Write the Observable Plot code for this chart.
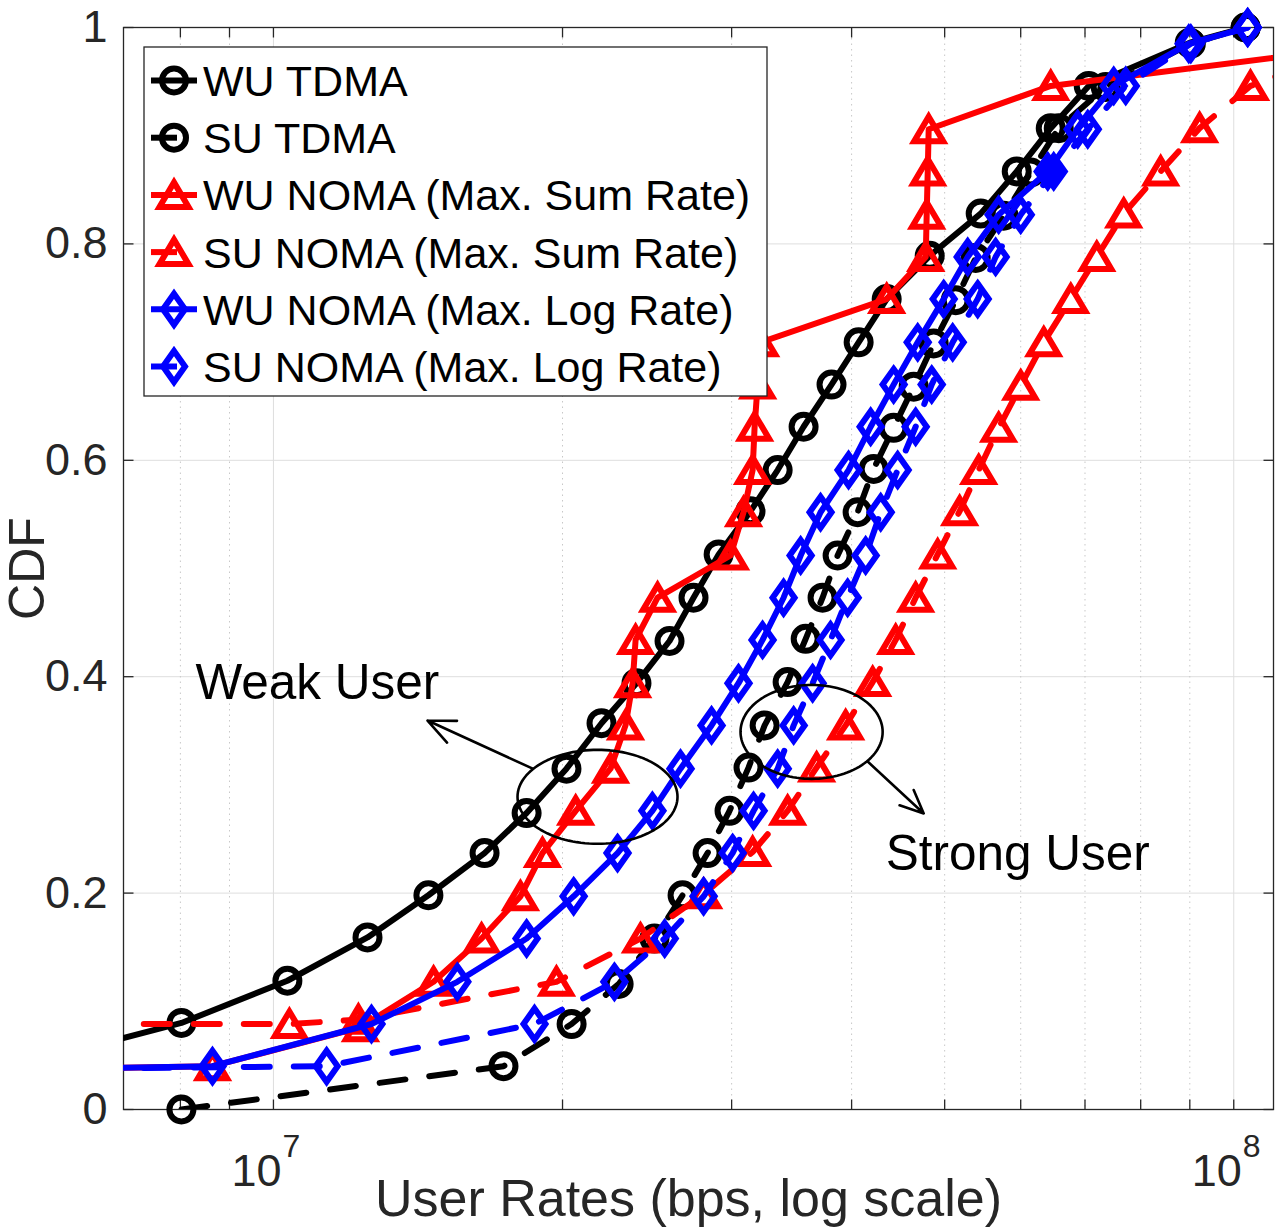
<!DOCTYPE html>
<html>
<head>
<meta charset="utf-8">
<script src="https://cdn.jsdelivr.net/npm/d3@7"></script>
<script src="https://cdn.jsdelivr.net/npm/@observablehq/plot@0.6"></script>
<style>
  html, body { margin: 0; padding: 0; background: #ffffff; }
  #chart { width: 1281px; height: 1230px; }
</style>
</head>
<body>
<div id="chart"></div>
<script>
// ------------------------------------------------------------------
// DATA
// ------------------------------------------------------------------
const seriesNames = [
  "WU TDMA",
  "SU TDMA",
  "WU NOMA (Max. Sum Rate)",
  "SU NOMA (Max. Sum Rate)",
  "WU NOMA (Max. Log Rate)",
  "SU NOMA (Max. Log Rate)"
];

// User rate (bps) and CDF value for each series
const wuTdmaX = [6.7e6, 8.02e6, 1.034e7, 1.253e7, 1.450e7, 1.659e7, 1.835e7, 2.019e7, 2.196e7, 2.388e7, 2.585e7, 2.738e7, 2.908e7, 3.139e7, 3.350e7, 3.565e7, 3.812e7, 4.068e7, 4.351e7, 4.824e7, 5.451e7, 5.943e7, 6.448e7, 7.063e7, 9.000e7, 1.029e8];
const wuTdmaY = [0.062, 0.080, 0.119, 0.159, 0.198, 0.237, 0.274, 0.315, 0.357, 0.394, 0.433, 0.473, 0.513, 0.553, 0.591, 0.631, 0.670, 0.709, 0.749, 0.789, 0.828, 0.867, 0.907, 0.946, 0.986, 1.0];

const suTdmaX = [8.02e6, 1.736e7, 2.044e7, 2.288e7, 2.493e7, 2.667e7, 2.832e7, 2.985e7, 3.124e7, 3.247e7, 3.431e7, 3.583e7, 3.731e7, 3.868e7, 4.058e7, 4.217e7, 4.424e7, 4.642e7, 4.870e7, 5.134e7, 5.386e7, 5.760e7, 6.145e7, 6.573e7, 7.356e7, 9.022e7, 1.029e8];
const suTdmaY = [0.0, 0.040, 0.079, 0.116, 0.158, 0.198, 0.237, 0.276, 0.316, 0.355, 0.395, 0.435, 0.473, 0.512, 0.552, 0.592, 0.630, 0.668, 0.708, 0.748, 0.787, 0.826, 0.866, 0.907, 0.945, 0.985, 1.0];

const wuSumX = [6.5e6, 8.64e6, 1.232e7, 1.468e7, 1.647e7, 1.808e7, 1.906e7, 2.064e7, 2.244e7, 2.326e7, 2.366e7, 2.383e7, 2.512e7, 2.992e7, 3.087e7, 3.155e7, 3.170e7, 3.193e7, 3.216e7, 4.351e7, 4.778e7, 4.789e7, 4.801e7, 4.812e7, 6.448e7, 1.437e8];
const wuSumY = [0.038, 0.040, 0.076, 0.118, 0.158, 0.197, 0.237, 0.276, 0.315, 0.355, 0.394, 0.434, 0.473, 0.512, 0.552, 0.591, 0.631, 0.670, 0.709, 0.749, 0.788, 0.827, 0.867, 0.906, 0.946, 0.985];

const suSumX = [6.5e6, 1.039e7, 1.226e7, 1.971e7, 2.411e7, 2.805e7, 3.155e7, 3.431e7, 3.678e7, 3.943e7, 4.207e7, 4.446e7, 4.664e7, 4.917e7, 5.183e7, 5.425e7, 5.691e7, 6.000e7, 6.341e7, 6.765e7, 7.200e7, 7.681e7, 8.393e7, 9.214e7, 1.041e8, 1.373e8];
const suSumY = [0.079, 0.079, 0.083, 0.118, 0.158, 0.199, 0.238, 0.276, 0.316, 0.355, 0.395, 0.434, 0.473, 0.513, 0.553, 0.591, 0.630, 0.669, 0.709, 0.749, 0.788, 0.828, 0.867, 0.907, 0.946, 0.985];

const wuLogX = [6.5e6, 8.64e6, 1.265e7, 1.554e7, 1.835e7, 2.054e7, 2.282e7, 2.481e7, 2.654e7, 2.859e7, 3.050e7, 3.231e7, 3.398e7, 3.540e7, 3.713e7, 3.971e7, 4.187e7, 4.424e7, 4.687e7, 4.988e7, 5.284e7, 5.691e7, 6.402e7, 6.879e7, 7.499e7, 8.978e7, 1.034e8];
const wuLogY = [0.038, 0.040, 0.079, 0.118, 0.158, 0.197, 0.237, 0.276, 0.315, 0.355, 0.394, 0.434, 0.473, 0.512, 0.552, 0.591, 0.631, 0.670, 0.709, 0.749, 0.788, 0.827, 0.867, 0.906, 0.946, 0.985, 1.0];

const suLogX = [6.5e6, 1.136e7, 1.870e7, 2.265e7, 2.555e7, 2.805e7, 3.007e7, 3.162e7, 3.350e7, 3.481e7, 3.643e7, 3.803e7, 3.962e7, 4.137e7, 4.289e7, 4.467e7, 4.664e7, 4.847e7, 5.097e7, 5.412e7, 5.650e7, 6.000e7, 6.494e7, 7.046e7, 7.718e7, 9.022e7, 1.034e8];
const suLogY = [0.038, 0.040, 0.079, 0.118, 0.158, 0.197, 0.237, 0.276, 0.315, 0.355, 0.394, 0.434, 0.473, 0.512, 0.552, 0.591, 0.631, 0.670, 0.709, 0.749, 0.788, 0.827, 0.867, 0.906, 0.946, 0.985, 1.0];

// Axes
const xDomain = [6.98e6, 1.1e8];
const yDomain = [0, 1];
const xMajorTicks = [1e7, 1e8];
const xMinorTicks = [8e6, 9e6, 2e7, 3e7, 4e7, 5e7, 6e7, 7e7, 8e7, 9e7];
const xTickBase = ["10", "10"];
const xTickExp = ["7", "8"];
const yTicks = [0, 0.2, 0.4, 0.6, 0.8, 1];
const yTickLabels = ["0", "0.2", "0.4", "0.6", "0.8", "1"];
const xLabel = "User Rates (bps, log scale)";
const yLabel = "CDF";

// Annotations (data coordinates)
const annoLabels = ["Weak User", "Strong User"];
const annoLabelX = [8.293e6, 4.341e7];
const annoLabelY = [0.394, 0.236];
const ellipseCx = [2.175e7, 3.634e7];
const ellipseCy = [0.289, 0.349];
const ellipseRxDecades = [0.0833, 0.074];
const ellipseRy = [0.0434, 0.0434];
const arrowX1 = [1.862e7, 4.157e7];
const arrowY1 = [0.315, 0.3216];
const arrowX2 = [1.447e7, 4.755e7];
const arrowY2 = [0.3595, 0.2736];

// ------------------------------------------------------------------
// STYLE
// ------------------------------------------------------------------
const FONT = "'Liberation Sans', Arial, Helvetica, sans-serif";
const INK = "#262626";
const LINE_W = 6;
const MARK_W = 6;
const DASH = "26,24";

const SYMBOLS = {
  circle: { draw(ctx) { ctx.moveTo(12, 0); ctx.arc(0, 0, 12, 0, 2 * Math.PI); ctx.closePath(); } },
  triangle: { draw(ctx) { ctx.moveTo(0, -12.5); ctx.lineTo(14.5, 12); ctx.lineTo(-14.5, 12); ctx.closePath(); } },
  diamond: { draw(ctx) { ctx.moveTo(0, -15.5); ctx.lineTo(11, 0); ctx.lineTo(0, 15.5); ctx.lineTo(-11, 0); ctx.closePath(); } }
};
const tickUp = { draw(ctx) { ctx.moveTo(0, 0); ctx.lineTo(0, -10); } };
const tickDown = { draw(ctx) { ctx.moveTo(0, 0); ctx.lineTo(0, 10); } };
const tickRight = { draw(ctx) { ctx.moveTo(0, 0); ctx.lineTo(10, 0); } };
const tickLeft = { draw(ctx) { ctx.moveTo(0, 0); ctx.lineTo(-10, 0); } };

const series = [
  { name: seriesNames[0], xs: wuTdmaX, ys: wuTdmaY, color: "#000000", dash: null, marker: "circle" },
  { name: seriesNames[1], xs: suTdmaX, ys: suTdmaY, color: "#000000", dash: DASH, marker: "circle" },
  { name: seriesNames[2], xs: wuSumX, ys: wuSumY, color: "#ff0000", dash: null, marker: "triangle" },
  { name: seriesNames[3], xs: suSumX, ys: suSumY, color: "#ff0000", dash: DASH, marker: "triangle" },
  { name: seriesNames[4], xs: wuLogX, ys: wuLogY, color: "#0000ff", dash: null, marker: "diamond" },
  { name: seriesNames[5], xs: suLogX, ys: suLogY, color: "#0000ff", dash: DASH, marker: "diamond" }
];

const inDomain = (x) => x >= xDomain[0] && x <= xDomain[1];

// ------------------------------------------------------------------
// MARKS
// ------------------------------------------------------------------
const marks = [];

// grid
marks.push(Plot.ruleY(yTicks, { y: d => d, stroke: "#dedede", strokeWidth: 1 }));
marks.push(Plot.ruleX(xMajorTicks, { x: d => d, stroke: "#dedede", strokeWidth: 1 }));
marks.push(Plot.ruleX(xMinorTicks, { x: d => d, stroke: "#c8c8c8", strokeWidth: 1, strokeDasharray: "1.5,4" }));

// box + ticks
marks.push(Plot.frame({ stroke: INK, strokeWidth: 1.3 }));
const allXTicks = xMajorTicks.concat(xMinorTicks);
marks.push(Plot.dot(allXTicks, { x: d => d, frameAnchor: "bottom", symbol: tickUp, stroke: INK, fill: "none", strokeWidth: 1.3 }));
marks.push(Plot.dot(allXTicks, { x: d => d, frameAnchor: "top", symbol: tickDown, stroke: INK, fill: "none", strokeWidth: 1.3 }));
marks.push(Plot.dot(yTicks, { y: d => d, frameAnchor: "left", symbol: tickRight, stroke: INK, fill: "none", strokeWidth: 1.3 }));
marks.push(Plot.dot(yTicks, { y: d => d, frameAnchor: "right", symbol: tickLeft, stroke: INK, fill: "none", strokeWidth: 1.3 }));

// tick labels
marks.push(Plot.text(yTicks, { y: d => d, text: (d, i) => yTickLabels[i], frameAnchor: "left", textAnchor: "end", lineAnchor: "middle", dx: -16, fontSize: 45, fill: INK }));
marks.push(Plot.text(xMajorTicks, { x: d => d, text: (d, i) => xTickBase[i], frameAnchor: "bottom", textAnchor: "end", lineAnchor: "middle", dx: 8, dy: 62, fontSize: 45, fill: INK }));
marks.push(Plot.text(xMajorTicks, { x: d => d, text: (d, i) => xTickExp[i], frameAnchor: "bottom", textAnchor: "start", lineAnchor: "middle", dx: 9, dy: 37, fontSize: 32, fill: INK }));

// axis labels
marks.push(Plot.text([xLabel], { text: d => d, frameAnchor: "bottom", textAnchor: "middle", lineAnchor: "middle", dx: -10, dy: 90, fontSize: 52, fill: INK }));
marks.push(Plot.text([yLabel], { text: d => d, frameAnchor: "left", textAnchor: "middle", lineAnchor: "middle", rotate: -90, dx: -96, fontSize: 50, fill: INK }));

// series
for (const s of series) {
  const pts = s.xs.map((x, i) => ({ x, y: s.ys[i] }));
  marks.push(Plot.line(pts, {
    x: "x", y: "y", stroke: s.color, strokeWidth: LINE_W,
    strokeDasharray: s.dash || undefined, clip: true, strokeLinejoin: "round"
  }));
  marks.push(Plot.dot(pts.filter(p => inDomain(p.x)), {
    x: "x", y: "y", symbol: SYMBOLS[s.marker], r: 10, stroke: s.color, fill: "none",
    strokeWidth: MARK_W, strokeLinejoin: "miter"
  }));
}

// annotations: ellipses
const ellipsePts = [];
ellipseCx.forEach((cx, k) => {
  for (let j = 0; j <= 120; j++) {
    const t = (j / 120) * 2 * Math.PI;
    ellipsePts.push({
      k,
      x: cx * Math.pow(10, ellipseRxDecades[k] * Math.cos(t)),
      y: ellipseCy[k] + ellipseRy[k] * Math.sin(t)
    });
  }
});
marks.push(Plot.line(ellipsePts, { x: "x", y: "y", z: "k", stroke: "#000", strokeWidth: 2.6 }));

// annotations: arrows
const annoIdx = [0, 1];
marks.push(Plot.arrow(annoIdx, {
  x1: i => arrowX1[i], y1: i => arrowY1[i], x2: i => arrowX2[i], y2: i => arrowY2[i],
  stroke: "#000", strokeWidth: 2.6, headLength: 17, headAngle: 48
}));

// annotations: labels
marks.push(Plot.text(annoLabels, {
  x: (d, i) => annoLabelX[i], y: (d, i) => annoLabelY[i], text: d => d,
  textAnchor: "start", lineAnchor: "middle", fontSize: 49.5, fill: "#000"
}));

const chart = Plot.plot({
  width: 1281,
  height: 1230,
  marginLeft: 123,
  marginRight: 8,
  marginTop: 27,
  marginBottom: 121,
  x: { type: "log", domain: xDomain, axis: null },
  y: { domain: yDomain, axis: null },
  style: { fontFamily: FONT, background: "#ffffff", overflow: "visible" },
  marks
});
document.getElementById("chart").appendChild(chart);

// ------------------------------------------------------------------
// LEGEND (inside the axes, top-left)
// ------------------------------------------------------------------
const svg = d3.select(chart.tagName.toLowerCase() === "svg" ? chart : chart.querySelector("svg"));
const lg = svg.append("g").attr("font-family", FONT).attr("text-anchor", "start");
lg.append("rect")
  .attr("x", 144).attr("y", 47).attr("width", 623).attr("height", 349)
  .attr("fill", "#ffffff").attr("stroke", INK).attr("stroke-width", 1.3);
series.forEach((s, i) => {
  const cy = 80.5 + i * 57.2;
  lg.append("line")
    .attr("x1", 151).attr("x2", 197).attr("y1", cy).attr("y2", cy)
    .attr("stroke", s.color).attr("stroke-width", LINE_W)
    .attr("stroke-dasharray", s.dash ? DASH : null);
  lg.append("path")
    .attr("d", d3.symbol(SYMBOLS[s.marker], 100)())
    .attr("transform", `translate(174,${cy})`)
    .attr("fill", "none").attr("stroke", s.color)
    .attr("stroke-width", MARK_W).attr("stroke-linejoin", "miter");
  lg.append("text")
    .attr("x", 203).attr("y", cy + 15.4)
    .attr("text-anchor", "start")
    .attr("font-size", 43).attr("fill", "#000")
    .text(s.name);
});
</script>
</body>
</html>
